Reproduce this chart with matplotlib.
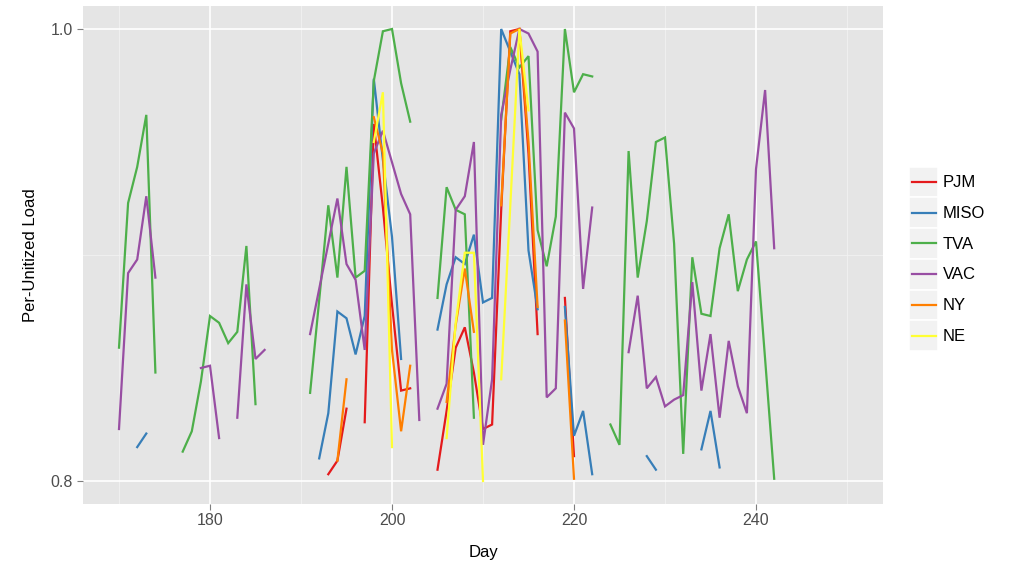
import numpy as np
import matplotlib
matplotlib.use("Agg")
import matplotlib.pyplot as plt
from matplotlib.patches import Rectangle

N = np.nan

# day axis (one value per day, NaN = no data that day)
days = np.arange(170, 243)

pjm = [N, N, N, N, N, N, N, N, N, N,
       N, N, N, N, N, N, N, N, N, N,
       N, N, N, 0.803, 0.809, 0.832, N, 0.826, 0.958, 0.921,
       0.878, 0.840, 0.841, N, N, 0.805, 0.831, 0.859, 0.868, 0.848,
       0.823, 0.825, 0.920, 0.999, 1.000, 0.945, 0.865, N, N, 0.881,
       0.811, N, N, N, N, N, N, N, N, N,
       N, N, N, N, N, N, N, N, N, N,
       N, N, N]

miso = [N, N, 0.815, 0.821, N, N, N, N, N, N,
        N, N, N, N, N, N, N, N, N, N,
        N, N, 0.810, 0.830, 0.875, 0.872, 0.856, 0.873, 0.978, 0.942,
        0.908, 0.854, N, N, N, 0.867, 0.887, 0.899, 0.896, 0.909,
        0.879, 0.881, 1.000, 0.990, 0.980, 0.902, 0.876, N, N, 0.877,
        0.820, 0.831, 0.803, N, N, N, N, N, 0.811, 0.805,
        N, N, N, N, 0.814, 0.831, 0.806, N, N, N,
        N, N, N]

tva = [0.859, 0.923, 0.939, 0.962, 0.848, N, N, 0.813, 0.822, 0.844,
       0.873, 0.870, 0.861, 0.866, 0.904, 0.834, N, N, N, N,
       N, 0.839, 0.880, 0.922, 0.890, 0.939, 0.890, 0.893, 0.977, 0.999,
       1.000, 0.976, 0.959, N, N, 0.881, 0.930, 0.920, 0.918, 0.828,
       N, N, 0.960, 0.992, 0.983, 0.988, 0.911, 0.895, 0.917, 1.000,
       0.972, 0.980, 0.979, N, 0.825, 0.816, 0.946, 0.890, 0.915, 0.950,
       0.952, 0.905, 0.812, 0.899, 0.874, 0.873, 0.903, 0.918, 0.884, 0.898,
       0.906, 0.854, 0.801]

vac = [0.823, 0.892, 0.898, 0.926, 0.890, N, N, N, N, 0.850,
       0.851, 0.819, N, 0.828, 0.887, 0.854, 0.858, N, N, N,
       N, 0.865, 0.885, 0.905, 0.925, 0.896, 0.889, 0.858, 0.945, 0.955,
       0.941, 0.927, 0.918, 0.827, N, 0.832, 0.843, 0.920, 0.926, 0.950,
       0.816, 0.845, 0.962, 0.982, 1.000, 0.998, 0.990, 0.837, 0.841, 0.963,
       0.956, 0.885, 0.921, N, N, N, 0.857, 0.882, 0.841, 0.846,
       0.833, 0.836, 0.838, 0.888, 0.840, 0.865, 0.828, 0.862, 0.842, 0.830,
       0.938, 0.973, 0.903]

ny = [N, N, N, N, N, N, N, N, N, N,
      N, N, N, N, N, N, N, N, N, N,
      N, N, N, N, 0.809, 0.845, N, N, 0.961, 0.945,
      0.858, 0.822, 0.851, N, N, N, 0.835, 0.869, 0.894, 0.866,
      N, N, 0.922, 0.998, 1.000, 0.950, 0.877, N, N, 0.871,
      0.801, N, N, N, N, N, N, N, N, N,
      N, N, N, N, N, N, N, N, N, N,
      N, N, N]

ne = [N, N, N, N, N, N, N, N, N, N,
      N, N, N, N, N, N, N, N, N, N,
      N, N, N, N, N, N, N, N, 0.950, 0.972,
      0.815, N, N, N, N, N, 0.819, 0.870, 0.901, 0.901,
      0.800, N, 0.845, 0.922, 1.000, 0.964, N, N, N, N,
      N, N, N, N, N, N, N, N, N, N,
      N, N, N, N, N, N, N, N, N, N,
      N, N, N]

names = ["PJM", "MISO", "TVA", "VAC", "NY", "NE"]
series = [pjm, miso, tva, vac, ny, ne]
colors = ["#E41A1C", "#377EB8", "#4DAF4A", "#984EA3", "#FF7F00", "#FFFF33"]

plt.rcParams["font.family"] = ["Liberation Sans", "DejaVu Sans"]

fig = plt.figure(figsize=(10.15, 5.65), dpi=100)
ax = fig.add_axes([82.6 / 1015, 61.4 / 565, 800.8 / 1015, 497.2 / 565])
ax.set_facecolor("#E5E5E5")
for s in ax.spines.values():
    s.set_visible(False)

for vals, col in zip(series, colors):
    ax.plot(days, vals, color=col, lw=1.6, solid_joinstyle="miter", zorder=3)

ax.set_xlim(166, 254)
ax.set_ylim(0.79, 1.01)
ax.set_xticks([180, 200, 220, 240])
ax.set_xticks([170, 190, 210, 230, 250], minor=True)
ax.set_yticks([0.8, 1.0])
ax.set_yticklabels(["0.8", "1.0"])
ax.set_yticks([0.9], minor=True)
ax.grid(which="major", color="white", lw=1.2, zorder=0)
ax.grid(which="minor", color="#F2F2F2", lw=0.6, zorder=0)
ax.set_axisbelow(True)
ax.tick_params(which="major", length=4, width=0.8, color="#7F7F7F",
               labelcolor="#4D4D4D", labelsize=11.5, pad=3)
ax.tick_params(which="minor", length=0)

ax.set_xlabel("Day", fontsize=12, labelpad=12)
ax.set_ylabel("Per-Unitized Load", fontsize=12, labelpad=9)

# legend drawn ggplot-style: grey keys with white borders
lg = fig.add_axes([909 / 1015, (565 - 351) / 565, 95 / 1015, 184.3 / 565])
lg.set_xlim(0, 95)
lg.set_ylim(6, 0)
lg.axis("off")
for i, (name, col) in enumerate(zip(names, colors)):
    lg.add_patch(Rectangle((0, i), 29, 1, facecolor="#F2F2F2",
                           edgecolor="white", lw=1.2))
    lg.plot([2.5, 26.5], [i + 0.5, i + 0.5], color=col, lw=1.6)
    lg.text(34, i + 0.52, name, fontsize=12, va="center", ha="left")

fig.savefig("out.png", dpi=100)
